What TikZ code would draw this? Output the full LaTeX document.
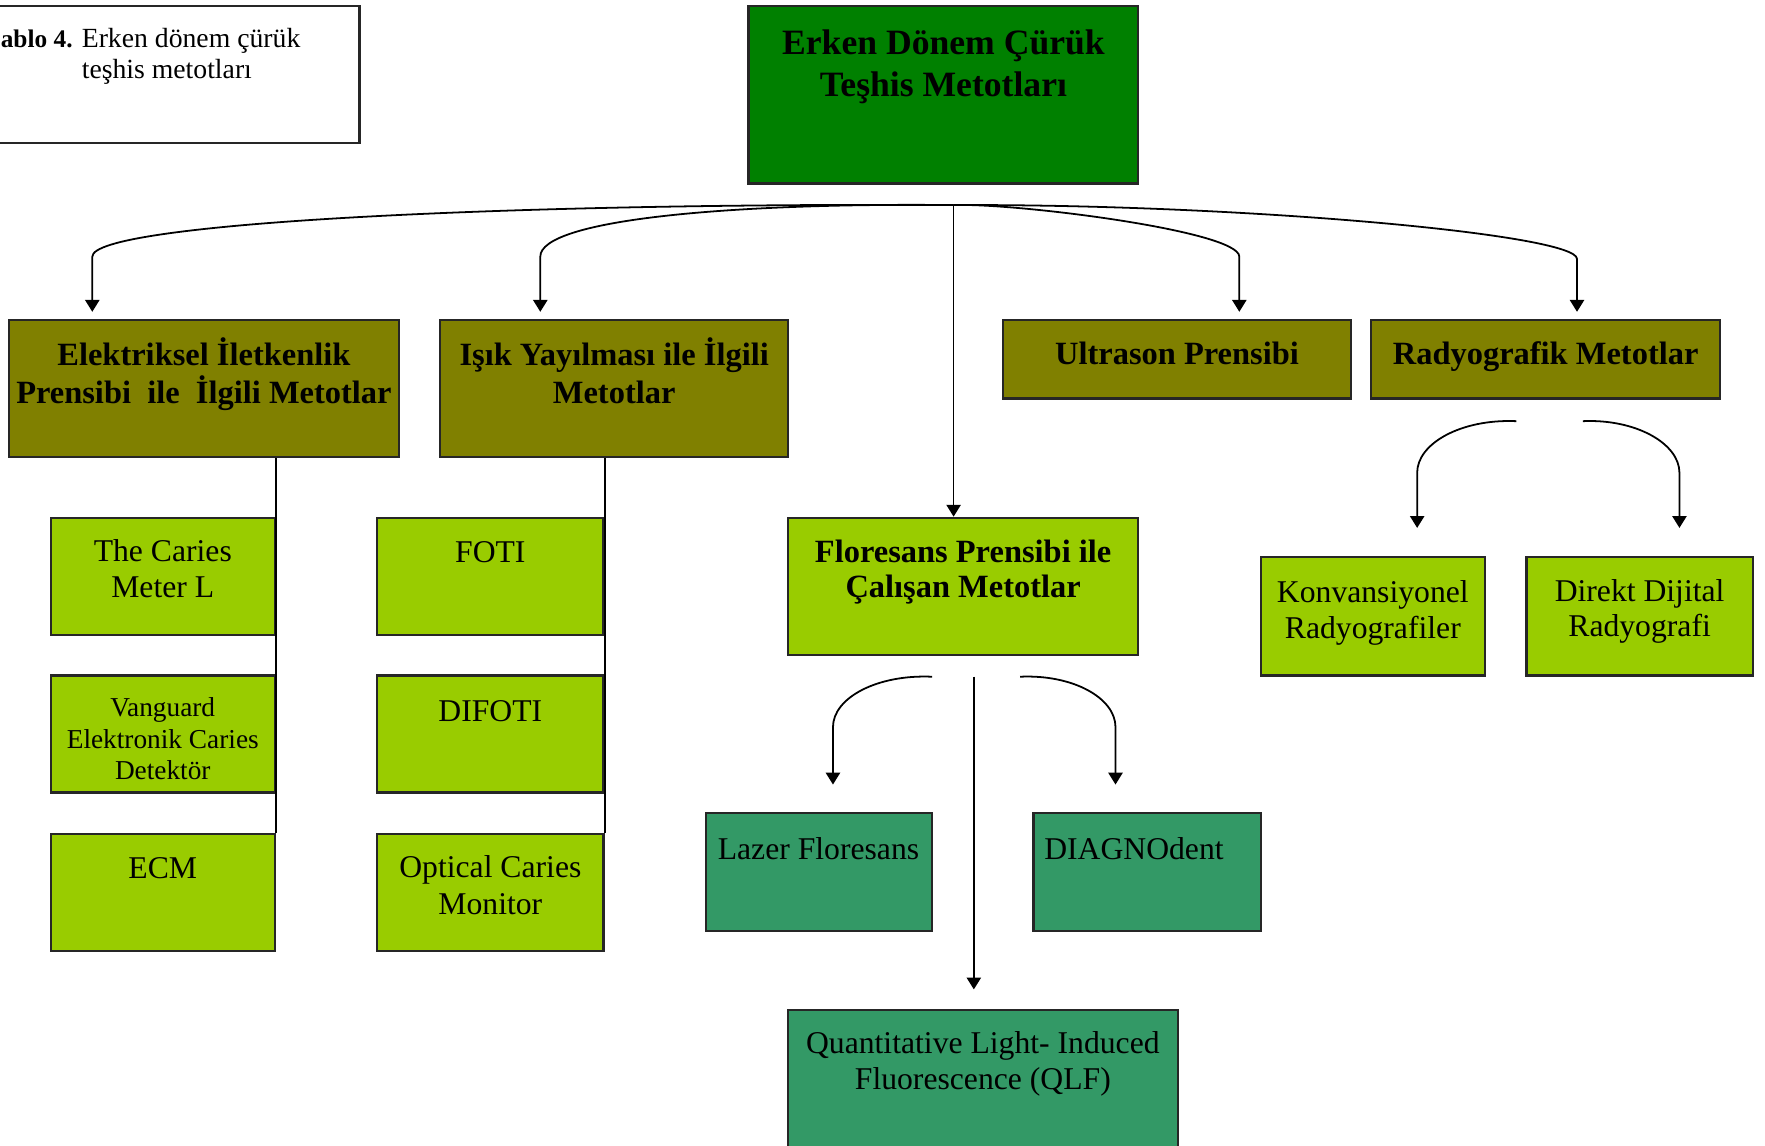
\documentclass[tikz,border=0pt]{standalone}
\usepackage{fontspec}
\setmainfont{Liberation Serif}
\usetikzlibrary{positioning,arrows.meta}

\definecolor{kokyesil}{RGB}{0,128,0}
\definecolor{zeytin}{RGB}{128,128,0}
\definecolor{fistik}{RGB}{153,204,0}
\definecolor{deniz}{RGB}{51,153,102}

\tikzset{
  kutu/.style={draw=black!85, line width=0.6pt, inner sep=0pt, anchor=north west},
  kokkutu/.style={kutu, fill=kokyesil},
  anakutu/.style={kutu, fill=zeytin, minimum height=1.22cm},
  altkutu/.style={kutu, fill=fistik, minimum width=2cm, minimum height=1.04cm},
  uckutu/.style={kutu, fill=deniz, minimum height=1.05cm},
  yazi/.style={inner sep=0pt, align=center, font=\fontsize{8}{9}\selectfont},
  kokyazi/.style={yazi, font=\bfseries\fontsize{9}{10.5}\selectfont},
  anayazi/.style={yazi, font=\bfseries\fontsize{8.2}{9.7}\selectfont},
  ok/.style={line width=0.45pt, -{Triangle[length=3pt,width=3.6pt]}},
  hat/.style={line width=0.5pt},
}

\begin{document}
\begin{tikzpicture}[x=0.01cm, y=-0.01cm]
\useasboundingbox (0,0) rectangle (1568,1018);

% tablo basligi
\node[kutu, minimum width=3.28cm, minimum height=1.22cm] (baslik) at (-10,4) {};
\node[yazi, align=left, font=\fontsize{7}{8}\selectfont, below right=0.2cm and 0.1cm of baslik.north west] (basliktxt)
  {{\bfseries\fontsize{6.4}{8}\selectfont ablo 4.} Erken dönem çürük\\\phantom{{\bfseries\fontsize{6.4}{8}\selectfont ablo 4.} }teşhis metotları};

% ana kutu
\node[kokkutu, minimum width=3.46cm, minimum height=1.58cm] (kok) at (664,4) {};
\node[kokyazi, below=0.22cm of kok.north] (koktxt) {Erken Dönem Çürük\\Teşhis Metotları};

% ikinci seviye
\node[anakutu, minimum width=3.46cm] (elek) at (7,283) {};
\node[anakutu, minimum width=3.09cm] (isik) at (390,283) {};
\node[anakutu, minimum width=3.09cm, minimum height=0.7cm] (ultra) at (890,283) {};
\node[anakutu, minimum width=3.10cm, minimum height=0.7cm] (radyo) at (1217,283) {};
\node[anayazi, below=0.16cm of elek.north] (elektxt) {Elektriksel İletkenlik\\Prensibi\ \ ile\ \ İlgili Metotlar};
\node[anayazi, below=0.16cm of isik.north] (isiktxt) {Işık Yayılması ile İlgili\\Metotlar};
\node[anayazi, below=0.2cm of ultra.north] (ultratxt) {Ultrason Prensibi};
\node[anayazi, below=0.2cm of radyo.north] (radyotxt) {Radyografik Metotlar};

% ucuncu seviye
\node[altkutu, minimum width=1.99cm] (caries) at (44,459) {};
\node[altkutu, minimum width=1.99cm] (vang) at (44,599) {};
\node[altkutu, minimum width=1.99cm] (ecm) at (44,740) {};
\node[altkutu, minimum width=2.01cm] (foti) at (334,459) {};
\node[altkutu, minimum width=2.01cm] (difoti) at (334,599) {};
\node[altkutu, minimum width=2.01cm] (optical) at (334,740) {};
\node[altkutu, minimum width=3.11cm, minimum height=1.22cm] (flor) at (699,459) {};
\node[altkutu, minimum width=1.99cm, minimum height=1.05cm] (konv) at (1119,494) {};
\node[altkutu, minimum width=2.01cm, minimum height=1.05cm] (direkt) at (1355,494) {};
\node[yazi, below=0.2cm of caries.north] (cariestxt) {The Caries\\Meter L};
\node[yazi, font=\fontsize{6.9}{8}\selectfont, below=0.2cm of vang.north] (vangtxt) {Vanguard\\Elektronik Caries\\Detektör};
\node[yazi, below=0.21cm of ecm.north] (ecmtxt) {ECM};
\node[yazi, below=0.21cm of foti.north] (fotitxt) {FOTI};
\node[yazi, below=0.23cm of difoti.north] (difotitxt) {DIFOTI};
\node[yazi, font=\fontsize{8}{9.4}\selectfont, below=0.19cm of optical.north] (opticaltxt) {Optical Caries\\Monitor};
\node[anayazi, font=\bfseries\fontsize{8.2}{8.8}\selectfont, below=0.2cm of flor.north] (flortxt) {Floresans Prensibi ile\\Çalışan Metotlar};
\node[yazi, below=0.21cm of konv.north] (konvtxt) {Konvansiyonel\\Radyografiler};
\node[yazi, below=0.2cm of direkt.north] (direkttxt) {Direkt Dijital\\Radyografi};

% dorduncu seviye
\node[uckutu, minimum width=2.01cm] (lazer) at (626,721) {};
\node[uckutu, minimum width=2.02cm] (diag) at (917,721) {};
\node[uckutu, minimum width=3.46cm, minimum height=1.35cm] (qlf) at (699,896) {};
\node[yazi, below right=0.22cm and 0.11cm of lazer.north west] (lazertxt) {Lazer Floresans};
\node[yazi, below right=0.22cm and 0.1cm of diag.north west] (diagtxt) {DIAGNOdent};
\node[yazi, below=0.2cm of qlf.north] (qlftxt) {Quantitative Light- Induced\\Fluorescence (QLF)};

% baglantilar
\coordinate (dugum) at ([xshift=0.09cm,yshift=-0.18cm]kok.south);
\draw[ok, shorten >=0.06cm] (dugum) .. controls (450,180) and (82,198) .. (82,228) -- (elek.north -| 82,0);
\draw[ok, shorten >=0.06cm] (dugum) .. controls (650,180) and (480,195) .. (480,228) -- (isik.north -| 480,0);
\draw[ok, shorten >=0.06cm] (dugum) .. controls (900,180) and (1101,205) .. (1101,228) -- (ultra.north -| 1101,0);
\draw[ok, shorten >=0.06cm] (dugum) .. controls (1100,181) and (1401,208) .. (1401,230) -- (radyo.north -| 1401,0);
\draw[ok] (dugum) -- (flor.north -| dugum);

\draw[hat] (elek.south -| caries.east) -- (ecm.north east);
\draw[hat] (isik.south -| foti.east) -- (optical.north east);

\coordinate (radsol) at ([xshift=-0.26cm,yshift=-0.19cm]radyo.south);
\coordinate (radsag) at ([xshift=0.33cm,yshift=-0.19cm]radyo.south);
\draw[ok, shorten >=0.25cm] (radsol) .. controls (1298,372) and (1259,394) .. (1259,420) -- (konv.north -| 1259,0);
\draw[ok, shorten >=0.25cm] (radsag) .. controls (1453,372) and (1492,394) .. (1492,420) -- (direkt.north -| 1492,0);

\coordinate (florsol) at ([xshift=-0.275cm,yshift=-0.18cm]flor.south);
\coordinate (florsag) at ([xshift=0.505cm,yshift=-0.18cm]flor.south);
\coordinate (flororta) at ([xshift=0.095cm,yshift=-0.18cm]flor.south);
\draw[ok, shorten >=0.24cm] (florsol) .. controls (779,599) and (740,620) .. (740,646) -- (lazer.north -| 740,0);
\draw[ok, shorten >=0.24cm] (florsag) .. controls (953,599) and (991,620) .. (991,646) -- (diag.north -| 991,0);
\draw[ok, shorten >=0.17cm] (flororta) -- (qlf.north -| flororta);
\end{tikzpicture}
\end{document}
